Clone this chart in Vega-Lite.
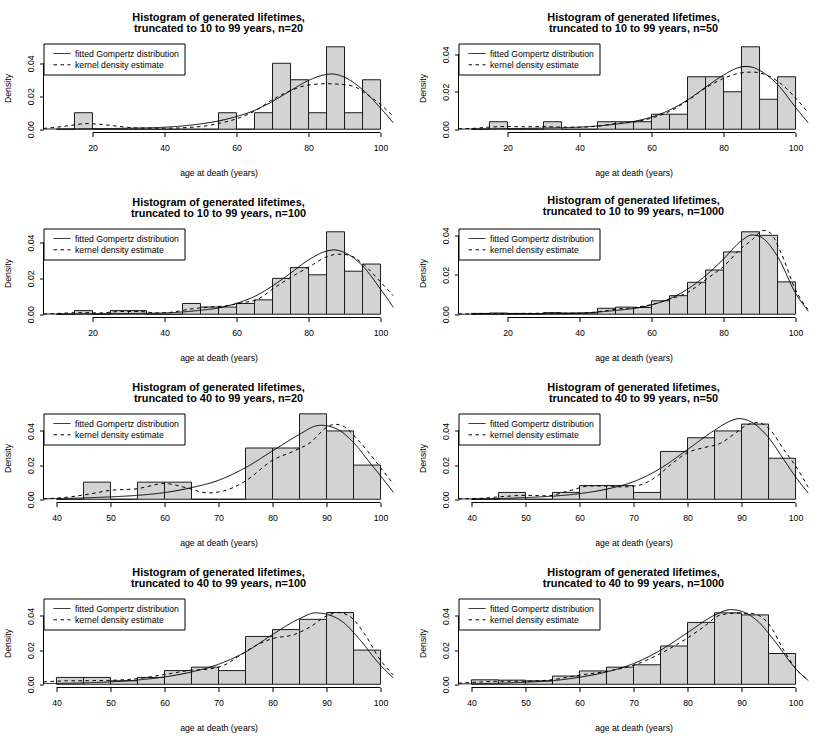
{
"$schema":"https://vega.github.io/schema/vega-lite/v6.json",
"background":"white",
"padding":{"left":3.5,"top":11.5,"right":5,"bottom":5},
"datasets":{
"bars":[
{"p":1,"lo":10,"hi":15,"d":0},{"p":1,"lo":15,"hi":20,"d":0.01},{"p":1,"lo":20,"hi":25,"d":0},{"p":1,"lo":25,"hi":30,"d":0},{"p":1,"lo":30,"hi":35,"d":0},{"p":1,"lo":35,"hi":40,"d":0},{"p":1,"lo":40,"hi":45,"d":0},{"p":1,"lo":45,"hi":50,"d":0},{"p":1,"lo":50,"hi":55,"d":0},{"p":1,"lo":55,"hi":60,"d":0.01},{"p":1,"lo":60,"hi":65,"d":0},{"p":1,"lo":65,"hi":70,"d":0.01},{"p":1,"lo":70,"hi":75,"d":0.04},{"p":1,"lo":75,"hi":80,"d":0.03},{"p":1,"lo":80,"hi":85,"d":0.01},{"p":1,"lo":85,"hi":90,"d":0.05},{"p":1,"lo":90,"hi":95,"d":0.01},{"p":1,"lo":95,"hi":100,"d":0.03},
{"p":2,"lo":10,"hi":15,"d":0},{"p":2,"lo":15,"hi":20,"d":0.004},{"p":2,"lo":20,"hi":25,"d":0},{"p":2,"lo":25,"hi":30,"d":0},{"p":2,"lo":30,"hi":35,"d":0.004},{"p":2,"lo":35,"hi":40,"d":0},{"p":2,"lo":40,"hi":45,"d":0},{"p":2,"lo":45,"hi":50,"d":0.004},{"p":2,"lo":50,"hi":55,"d":0.004},{"p":2,"lo":55,"hi":60,"d":0.004},{"p":2,"lo":60,"hi":65,"d":0.008},{"p":2,"lo":65,"hi":70,"d":0.008},{"p":2,"lo":70,"hi":75,"d":0.028},{"p":2,"lo":75,"hi":80,"d":0.028},{"p":2,"lo":80,"hi":85,"d":0.02},{"p":2,"lo":85,"hi":90,"d":0.044},{"p":2,"lo":90,"hi":95,"d":0.016},{"p":2,"lo":95,"hi":100,"d":0.028},
{"p":3,"lo":10,"hi":15,"d":0},{"p":3,"lo":15,"hi":20,"d":0.002},{"p":3,"lo":20,"hi":25,"d":0},{"p":3,"lo":25,"hi":30,"d":0.002},{"p":3,"lo":30,"hi":35,"d":0.002},{"p":3,"lo":35,"hi":40,"d":0},{"p":3,"lo":40,"hi":45,"d":0},{"p":3,"lo":45,"hi":50,"d":0.006},{"p":3,"lo":50,"hi":55,"d":0.004},{"p":3,"lo":55,"hi":60,"d":0.004},{"p":3,"lo":60,"hi":65,"d":0.006},{"p":3,"lo":65,"hi":70,"d":0.008},{"p":3,"lo":70,"hi":75,"d":0.02},{"p":3,"lo":75,"hi":80,"d":0.026},{"p":3,"lo":80,"hi":85,"d":0.022},{"p":3,"lo":85,"hi":90,"d":0.046},{"p":3,"lo":90,"hi":95,"d":0.024},{"p":3,"lo":95,"hi":100,"d":0.028},
{"p":4,"lo":10,"hi":15,"d":0.0004},{"p":4,"lo":15,"hi":20,"d":0.0006},{"p":4,"lo":20,"hi":25,"d":0.0004},{"p":4,"lo":25,"hi":30,"d":0.0002},{"p":4,"lo":30,"hi":35,"d":0.0008},{"p":4,"lo":35,"hi":40,"d":0.0006},{"p":4,"lo":40,"hi":45,"d":0.0006},{"p":4,"lo":45,"hi":50,"d":0.003},{"p":4,"lo":50,"hi":55,"d":0.0036},{"p":4,"lo":55,"hi":60,"d":0.0034},{"p":4,"lo":60,"hi":65,"d":0.0068},{"p":4,"lo":65,"hi":70,"d":0.0094},{"p":4,"lo":70,"hi":75,"d":0.0162},{"p":4,"lo":75,"hi":80,"d":0.0224},{"p":4,"lo":80,"hi":85,"d":0.0316},{"p":4,"lo":85,"hi":90,"d":0.0418},{"p":4,"lo":90,"hi":95,"d":0.04},{"p":4,"lo":95,"hi":100,"d":0.0164},
{"p":5,"lo":40,"hi":45,"d":0},{"p":5,"lo":45,"hi":50,"d":0.01},{"p":5,"lo":50,"hi":55,"d":0},{"p":5,"lo":55,"hi":60,"d":0.01},{"p":5,"lo":60,"hi":65,"d":0.01},{"p":5,"lo":65,"hi":70,"d":0},{"p":5,"lo":70,"hi":75,"d":0},{"p":5,"lo":75,"hi":80,"d":0.03},{"p":5,"lo":80,"hi":85,"d":0.03},{"p":5,"lo":85,"hi":90,"d":0.05},{"p":5,"lo":90,"hi":95,"d":0.04},{"p":5,"lo":95,"hi":100,"d":0.02},
{"p":6,"lo":40,"hi":45,"d":0},{"p":6,"lo":45,"hi":50,"d":0.004},{"p":6,"lo":50,"hi":55,"d":0},{"p":6,"lo":55,"hi":60,"d":0.004},{"p":6,"lo":60,"hi":65,"d":0.008},{"p":6,"lo":65,"hi":70,"d":0.008},{"p":6,"lo":70,"hi":75,"d":0.004},{"p":6,"lo":75,"hi":80,"d":0.028},{"p":6,"lo":80,"hi":85,"d":0.036},{"p":6,"lo":85,"hi":90,"d":0.04},{"p":6,"lo":90,"hi":95,"d":0.044},{"p":6,"lo":95,"hi":100,"d":0.024},
{"p":7,"lo":40,"hi":45,"d":0.004},{"p":7,"lo":45,"hi":50,"d":0.004},{"p":7,"lo":50,"hi":55,"d":0.002},{"p":7,"lo":55,"hi":60,"d":0.004},{"p":7,"lo":60,"hi":65,"d":0.008},{"p":7,"lo":65,"hi":70,"d":0.01},{"p":7,"lo":70,"hi":75,"d":0.008},{"p":7,"lo":75,"hi":80,"d":0.028},{"p":7,"lo":80,"hi":85,"d":0.032},{"p":7,"lo":85,"hi":90,"d":0.038},{"p":7,"lo":90,"hi":95,"d":0.042},{"p":7,"lo":95,"hi":100,"d":0.02},
{"p":8,"lo":40,"hi":45,"d":0.0026},{"p":8,"lo":45,"hi":50,"d":0.0024},{"p":8,"lo":50,"hi":55,"d":0.002},{"p":8,"lo":55,"hi":60,"d":0.0048},{"p":8,"lo":60,"hi":65,"d":0.0078},{"p":8,"lo":65,"hi":70,"d":0.01},{"p":8,"lo":70,"hi":75,"d":0.0114},{"p":8,"lo":75,"hi":80,"d":0.0224},{"p":8,"lo":80,"hi":85,"d":0.0362},{"p":8,"lo":85,"hi":90,"d":0.0418},{"p":8,"lo":90,"hi":95,"d":0.0406},{"p":8,"lo":95,"hi":100,"d":0.018}
],
"curves":[
{"p":1,"s":"g","x":6.4,"y":0.0001},{"p":1,"s":"g","x":20,"y":0.0003},{"p":1,"s":"g","x":30,"y":0.0006},{"p":1,"s":"g","x":40,"y":0.0012},{"p":1,"s":"g","x":50,"y":0.0032},{"p":1,"s":"g","x":55,"y":0.005},{"p":1,"s":"g","x":60,"y":0.0077},{"p":1,"s":"g","x":65,"y":0.0114},{"p":1,"s":"g","x":70,"y":0.0169},{"p":1,"s":"g","x":75,"y":0.0234},{"p":1,"s":"g","x":80,"y":0.0296},{"p":1,"s":"g","x":85,"y":0.0332},{"p":1,"s":"g","x":86.5,"y":0.0335},{"p":1,"s":"g","x":90,"y":0.0315},{"p":1,"s":"g","x":95,"y":0.024},{"p":1,"s":"g","x":100,"y":0.0128},{"p":1,"s":"g","x":103.6,"y":0.0037},
{"p":1,"s":"k","x":6.4,"y":0.0005},{"p":1,"s":"k","x":10,"y":0.0012},{"p":1,"s":"k","x":15,"y":0.0026},{"p":1,"s":"k","x":18,"y":0.0034},{"p":1,"s":"k","x":22,"y":0.003},{"p":1,"s":"k","x":27,"y":0.0018},{"p":1,"s":"k","x":32,"y":0.0008},{"p":1,"s":"k","x":40,"y":0.0006},{"p":1,"s":"k","x":50,"y":0.0016},{"p":1,"s":"k","x":55,"y":0.0035},{"p":1,"s":"k","x":60,"y":0.0063},{"p":1,"s":"k","x":65,"y":0.011},{"p":1,"s":"k","x":70,"y":0.0179},{"p":1,"s":"k","x":75,"y":0.0234},{"p":1,"s":"k","x":80,"y":0.0268},{"p":1,"s":"k","x":85,"y":0.0276},{"p":1,"s":"k","x":90,"y":0.027},{"p":1,"s":"k","x":93,"y":0.0256},{"p":1,"s":"k","x":96,"y":0.0215},{"p":1,"s":"k","x":100,"y":0.015},{"p":1,"s":"k","x":103.6,"y":0.0077},
{"p":2,"s":"g","x":6.4,"y":0.0001},{"p":2,"s":"g","x":20,"y":0.0003},{"p":2,"s":"g","x":30,"y":0.0006},{"p":2,"s":"g","x":40,"y":0.0011},{"p":2,"s":"g","x":50,"y":0.0027},{"p":2,"s":"g","x":55,"y":0.0041},{"p":2,"s":"g","x":60,"y":0.0065},{"p":2,"s":"g","x":65,"y":0.0102},{"p":2,"s":"g","x":70,"y":0.0156},{"p":2,"s":"g","x":75,"y":0.0224},{"p":2,"s":"g","x":80,"y":0.0289},{"p":2,"s":"g","x":84,"y":0.0328},{"p":2,"s":"g","x":86,"y":0.0335},{"p":2,"s":"g","x":88,"y":0.0331},{"p":2,"s":"g","x":90,"y":0.0314},{"p":2,"s":"g","x":95,"y":0.0239},{"p":2,"s":"g","x":100,"y":0.0117},{"p":2,"s":"g","x":103.6,"y":0.0032},
{"p":2,"s":"k","x":6.4,"y":0.0002},{"p":2,"s":"k","x":10,"y":0.0004},{"p":2,"s":"k","x":15,"y":0.0011},{"p":2,"s":"k","x":20,"y":0.0014},{"p":2,"s":"k","x":25,"y":0.0013},{"p":2,"s":"k","x":30,"y":0.0014},{"p":2,"s":"k","x":35,"y":0.0011},{"p":2,"s":"k","x":40,"y":0.0011},{"p":2,"s":"k","x":45,"y":0.0016},{"p":2,"s":"k","x":50,"y":0.003},{"p":2,"s":"k","x":55,"y":0.0038},{"p":2,"s":"k","x":60,"y":0.0059},{"p":2,"s":"k","x":65,"y":0.0095},{"p":2,"s":"k","x":70,"y":0.0152},{"p":2,"s":"k","x":75,"y":0.022},{"p":2,"s":"k","x":80,"y":0.0271},{"p":2,"s":"k","x":85,"y":0.0301},{"p":2,"s":"k","x":88,"y":0.0305},{"p":2,"s":"k","x":92,"y":0.0289},{"p":2,"s":"k","x":96,"y":0.0242},{"p":2,"s":"k","x":100,"y":0.0167},{"p":2,"s":"k","x":103.6,"y":0.0086},
{"p":3,"s":"g","x":6.4,"y":0.0001},{"p":3,"s":"g","x":20,"y":0.0002},{"p":3,"s":"g","x":30,"y":0.0004},{"p":3,"s":"g","x":40,"y":0.0007},{"p":3,"s":"g","x":50,"y":0.0022},{"p":3,"s":"g","x":55,"y":0.0035},{"p":3,"s":"g","x":60,"y":0.0061},{"p":3,"s":"g","x":65,"y":0.0099},{"p":3,"s":"g","x":70,"y":0.0158},{"p":3,"s":"g","x":75,"y":0.0229},{"p":3,"s":"g","x":80,"y":0.0303},{"p":3,"s":"g","x":85,"y":0.0352},{"p":3,"s":"g","x":87,"y":0.0359},{"p":3,"s":"g","x":90,"y":0.0344},{"p":3,"s":"g","x":95,"y":0.027},{"p":3,"s":"g","x":100,"y":0.014},{"p":3,"s":"g","x":103.6,"y":0.0037},
{"p":3,"s":"k","x":6.4,"y":0.0001},{"p":3,"s":"k","x":10,"y":0.0004},{"p":3,"s":"k","x":17,"y":0.0009},{"p":3,"s":"k","x":22,"y":0.0007},{"p":3,"s":"k","x":28,"y":0.0015},{"p":3,"s":"k","x":33,"y":0.0015},{"p":3,"s":"k","x":38,"y":0.0007},{"p":3,"s":"k","x":42,"y":0.0011},{"p":3,"s":"k","x":47,"y":0.0028},{"p":3,"s":"k","x":52,"y":0.0039},{"p":3,"s":"k","x":57,"y":0.0047},{"p":3,"s":"k","x":62,"y":0.0065},{"p":3,"s":"k","x":66,"y":0.0084},{"p":3,"s":"k","x":70,"y":0.014},{"p":3,"s":"k","x":75,"y":0.0205},{"p":3,"s":"k","x":80,"y":0.0262},{"p":3,"s":"k","x":85,"y":0.032},{"p":3,"s":"k","x":88,"y":0.0335},{"p":3,"s":"k","x":91,"y":0.0331},{"p":3,"s":"k","x":95,"y":0.0283},{"p":3,"s":"k","x":100,"y":0.018},{"p":3,"s":"k","x":103.6,"y":0.0102},
{"p":4,"s":"g","x":6.4,"y":0},{"p":4,"s":"g","x":20,"y":0.0001},{"p":4,"s":"g","x":30,"y":0.0002},{"p":4,"s":"g","x":40,"y":0.0005},{"p":4,"s":"g","x":50,"y":0.0019},{"p":4,"s":"g","x":55,"y":0.0029},{"p":4,"s":"g","x":60,"y":0.0047},{"p":4,"s":"g","x":65,"y":0.0078},{"p":4,"s":"g","x":70,"y":0.0127},{"p":4,"s":"g","x":75,"y":0.0195},{"p":4,"s":"g","x":80,"y":0.028},{"p":4,"s":"g","x":85,"y":0.0373},{"p":4,"s":"g","x":88,"y":0.0402},{"p":4,"s":"g","x":90,"y":0.0395},{"p":4,"s":"g","x":95,"y":0.0293},{"p":4,"s":"g","x":100,"y":0.0107},{"p":4,"s":"g","x":103.6,"y":0.0014},
{"p":4,"s":"k","x":6.4,"y":0.0001},{"p":4,"s":"k","x":10,"y":0.0002},{"p":4,"s":"k","x":20,"y":0.0003},{"p":4,"s":"k","x":30,"y":0.0005},{"p":4,"s":"k","x":40,"y":0.0005},{"p":4,"s":"k","x":45,"y":0.0012},{"p":4,"s":"k","x":50,"y":0.0025},{"p":4,"s":"k","x":55,"y":0.0034},{"p":4,"s":"k","x":60,"y":0.0049},{"p":4,"s":"k","x":65,"y":0.0076},{"p":4,"s":"k","x":70,"y":0.011},{"p":4,"s":"k","x":75,"y":0.0175},{"p":4,"s":"k","x":80,"y":0.0242},{"p":4,"s":"k","x":85,"y":0.0336},{"p":4,"s":"k","x":88,"y":0.0378},{"p":4,"s":"k","x":91,"y":0.0425},{"p":4,"s":"k","x":93,"y":0.0412},{"p":4,"s":"k","x":96,"y":0.031},{"p":4,"s":"k","x":100,"y":0.0124},{"p":4,"s":"k","x":103.6,"y":0.002},
{"p":5,"s":"g","x":37.6,"y":0.0002},{"p":5,"s":"g","x":45,"y":0.0008},{"p":5,"s":"g","x":50,"y":0.0014},{"p":5,"s":"g","x":55,"y":0.0023},{"p":5,"s":"g","x":60,"y":0.0039},{"p":5,"s":"g","x":65,"y":0.0068},{"p":5,"s":"g","x":70,"y":0.0111},{"p":5,"s":"g","x":75,"y":0.0185},{"p":5,"s":"g","x":80,"y":0.0283},{"p":5,"s":"g","x":85,"y":0.038},{"p":5,"s":"g","x":88,"y":0.0429},{"p":5,"s":"g","x":89,"y":0.0433},{"p":5,"s":"g","x":92,"y":0.041},{"p":5,"s":"g","x":95,"y":0.0332},{"p":5,"s":"g","x":98,"y":0.0215},{"p":5,"s":"g","x":100,"y":0.0137},{"p":5,"s":"g","x":102.4,"y":0.0039},
{"p":5,"s":"k","x":37.6,"y":0.0003},{"p":5,"s":"k","x":42,"y":0.0012},{"p":5,"s":"k","x":46,"y":0.003},{"p":5,"s":"k","x":50,"y":0.0052},{"p":5,"s":"k","x":55,"y":0.0062},{"p":5,"s":"k","x":60,"y":0.0092},{"p":5,"s":"k","x":64,"y":0.0068},{"p":5,"s":"k","x":68,"y":0.0037},{"p":5,"s":"k","x":71,"y":0.0049},{"p":5,"s":"k","x":75,"y":0.0107},{"p":5,"s":"k","x":80,"y":0.0228},{"p":5,"s":"k","x":84,"y":0.0283},{"p":5,"s":"k","x":87,"y":0.0332},{"p":5,"s":"k","x":90,"y":0.042},{"p":5,"s":"k","x":91.5,"y":0.0439},{"p":5,"s":"k","x":93,"y":0.0429},{"p":5,"s":"k","x":96,"y":0.0341},{"p":5,"s":"k","x":100,"y":0.0185},{"p":5,"s":"k","x":102.4,"y":0.0088},
{"p":6,"s":"g","x":37.6,"y":0.0002},{"p":6,"s":"g","x":45,"y":0.0004},{"p":6,"s":"g","x":50,"y":0.001},{"p":6,"s":"g","x":55,"y":0.0018},{"p":6,"s":"g","x":60,"y":0.0033},{"p":6,"s":"g","x":65,"y":0.0059},{"p":6,"s":"g","x":70,"y":0.0103},{"p":6,"s":"g","x":75,"y":0.0181},{"p":6,"s":"g","x":80,"y":0.0291},{"p":6,"s":"g","x":85,"y":0.0404},{"p":6,"s":"g","x":88,"y":0.0459},{"p":6,"s":"g","x":89.5,"y":0.0472},{"p":6,"s":"g","x":92,"y":0.0449},{"p":6,"s":"g","x":95,"y":0.0361},{"p":6,"s":"g","x":98,"y":0.0224},{"p":6,"s":"g","x":100,"y":0.0131},{"p":6,"s":"g","x":102.4,"y":0.0035},
{"p":6,"s":"k","x":37.6,"y":0.0002},{"p":6,"s":"k","x":42,"y":0.0006},{"p":6,"s":"k","x":46,"y":0.0016},{"p":6,"s":"k","x":50,"y":0.0023},{"p":6,"s":"k","x":54,"y":0.002},{"p":6,"s":"k","x":58,"y":0.0049},{"p":6,"s":"k","x":62,"y":0.0078},{"p":6,"s":"k","x":65,"y":0.0078},{"p":6,"s":"k","x":68,"y":0.0072},{"p":6,"s":"k","x":71,"y":0.0082},{"p":6,"s":"k","x":74,"y":0.0127},{"p":6,"s":"k","x":77,"y":0.0205},{"p":6,"s":"k","x":80,"y":0.0273},{"p":6,"s":"k","x":83,"y":0.0302},{"p":6,"s":"k","x":86,"y":0.0326},{"p":6,"s":"k","x":89,"y":0.039},{"p":6,"s":"k","x":91,"y":0.0435},{"p":6,"s":"k","x":93,"y":0.0449},{"p":6,"s":"k","x":95,"y":0.0416},{"p":6,"s":"k","x":98,"y":0.0283},{"p":6,"s":"k","x":100,"y":0.0195},{"p":6,"s":"k","x":102.4,"y":0.0068},
{"p":7,"s":"g","x":37.6,"y":0.0004},{"p":7,"s":"g","x":45,"y":0.0008},{"p":7,"s":"g","x":50,"y":0.0014},{"p":7,"s":"g","x":55,"y":0.0025},{"p":7,"s":"g","x":60,"y":0.0043},{"p":7,"s":"g","x":65,"y":0.0072},{"p":7,"s":"g","x":70,"y":0.0117},{"p":7,"s":"g","x":75,"y":0.0189},{"p":7,"s":"g","x":80,"y":0.0291},{"p":7,"s":"g","x":85,"y":0.0384},{"p":7,"s":"g","x":88,"y":0.0418},{"p":7,"s":"g","x":90,"y":0.041},{"p":7,"s":"g","x":93,"y":0.0365},{"p":7,"s":"g","x":96,"y":0.0267},{"p":7,"s":"g","x":100,"y":0.0111},{"p":7,"s":"g","x":102.4,"y":0.0037},
{"p":7,"s":"k","x":37.6,"y":0.0014},{"p":7,"s":"k","x":42,"y":0.002},{"p":7,"s":"k","x":46,"y":0.0021},{"p":7,"s":"k","x":50,"y":0.0023},{"p":7,"s":"k","x":55,"y":0.0033},{"p":7,"s":"k","x":60,"y":0.0057},{"p":7,"s":"k","x":65,"y":0.0082},{"p":7,"s":"k","x":68,"y":0.0088},{"p":7,"s":"k","x":71,"y":0.0111},{"p":7,"s":"k","x":74,"y":0.017},{"p":7,"s":"k","x":77,"y":0.0228},{"p":7,"s":"k","x":80,"y":0.0267},{"p":7,"s":"k","x":84,"y":0.0291},{"p":7,"s":"k","x":87,"y":0.0336},{"p":7,"s":"k","x":90,"y":0.04},{"p":7,"s":"k","x":92,"y":0.042},{"p":7,"s":"k","x":94,"y":0.0404},{"p":7,"s":"k","x":97,"y":0.0297},{"p":7,"s":"k","x":100,"y":0.014},{"p":7,"s":"k","x":102.4,"y":0.0053},
{"p":8,"s":"g","x":37.6,"y":0.0002},{"p":8,"s":"g","x":45,"y":0.0006},{"p":8,"s":"g","x":50,"y":0.0012},{"p":8,"s":"g","x":55,"y":0.0021},{"p":8,"s":"g","x":60,"y":0.0041},{"p":8,"s":"g","x":65,"y":0.0072},{"p":8,"s":"g","x":70,"y":0.0121},{"p":8,"s":"g","x":75,"y":0.0199},{"p":8,"s":"g","x":80,"y":0.0302},{"p":8,"s":"g","x":85,"y":0.0404},{"p":8,"s":"g","x":88,"y":0.0437},{"p":8,"s":"g","x":90,"y":0.0427},{"p":8,"s":"g","x":93,"y":0.0369},{"p":8,"s":"g","x":96,"y":0.0258},{"p":8,"s":"g","x":100,"y":0.0092},{"p":8,"s":"g","x":102.4,"y":0.0021},
{"p":8,"s":"k","x":37.6,"y":0.0006},{"p":8,"s":"k","x":42,"y":0.0014},{"p":8,"s":"k","x":46,"y":0.0018},{"p":8,"s":"k","x":50,"y":0.0018},{"p":8,"s":"k","x":55,"y":0.0027},{"p":8,"s":"k","x":60,"y":0.0053},{"p":8,"s":"k","x":65,"y":0.0076},{"p":8,"s":"k","x":70,"y":0.0111},{"p":8,"s":"k","x":75,"y":0.018},{"p":8,"s":"k","x":80,"y":0.0271},{"p":8,"s":"k","x":83,"y":0.0336},{"p":8,"s":"k","x":86,"y":0.0404},{"p":8,"s":"k","x":89,"y":0.0416},{"p":8,"s":"k","x":92,"y":0.0414},{"p":8,"s":"k","x":95,"y":0.0355},{"p":8,"s":"k","x":98,"y":0.0189},{"p":8,"s":"k","x":100,"y":0.0092},{"p":8,"s":"k","x":102.4,"y":0.0023}
]
},
"columns":2,
"spacing":{"row":96,"column":65},
"bounds":"flush",
"resolve":{"scale":{"strokeDash":"independent","x":"independent","y":"independent"},"legend":{"strokeDash":"independent"}},
"concat":[
{"width":350,"height":89,"title":{"text":["Histogram of generated lifetimes,","truncated to 10 to 99 years, n=20"]},
"layer":[
{"data":{"name":"bars"},"transform":[{"filter":"datum.p==1"}],"mark":{"type":"rect","fill":"#d3d3d3","stroke":"#1a1a1a","strokeWidth":1},
"encoding":{"x":{"field":"lo","type":"quantitative","scale":{"domain":[6.4,103.6],"nice":false,"zero":false},"axis":{"values":[20,40,60,80,100],"title":"age at death (years)"}},"x2":{"field":"hi"},
"y":{"field":"d","type":"quantitative","scale":{"domain":[-0.002,0.052],"nice":false,"zero":false},"axis":{"values":[0,0.01,0.02,0.03,0.04],"title":"Density","labelExpr":"round(datum.value*100)%2==0 ? format(datum.value,'.2f') : ''"}},"y2":{"datum":0}}},
{"data":{"name":"curves"},"transform":[{"filter":"datum.p==1"}],"mark":{"type":"line","color":"#000","strokeWidth":1,"clip":true,"interpolate":"monotone"},
"encoding":{"x":{"field":"x","type":"quantitative"},"y":{"field":"y","type":"quantitative"},"strokeDash":{"field":"s","type":"nominal","scale":{"domain":["g","k"],"range":[[1,0],[3.5,3.5]]},"legend":{"title":null,"labelFontSize":8.7,"labelExpr":"datum.label=='g' ? 'fitted Gompertz distribution' : 'kernel density estimate'"}}}},
{"data":{"values":[{}]},"mark":{"type":"rule","color":"#000","strokeWidth":1},"encoding":{"x":{"datum":20},"x2":{"datum":100},"y":{"datum":-0.002}}},
{"data":{"values":[{}]},"mark":{"type":"rule","color":"#000","strokeWidth":1},"encoding":{"x":{"datum":6.4},"y":{"datum":0},"y2":{"datum":0.04}}}
]},
{"width":350,"height":89,"title":{"text":["Histogram of generated lifetimes,","truncated to 10 to 99 years, n=50"]},
"layer":[
{"data":{"name":"bars"},"transform":[{"filter":"datum.p==2"}],"mark":{"type":"rect","fill":"#d3d3d3","stroke":"#1a1a1a","strokeWidth":1},
"encoding":{"x":{"field":"lo","type":"quantitative","scale":{"domain":[6.4,103.6],"nice":false,"zero":false},"axis":{"values":[20,40,60,80,100],"title":"age at death (years)"}},"x2":{"field":"hi"},
"y":{"field":"d","type":"quantitative","scale":{"domain":[-0.00176,0.04576],"nice":false,"zero":false},"axis":{"values":[0,0.01,0.02,0.03,0.04],"title":"Density","labelExpr":"round(datum.value*100)%2==0 ? format(datum.value,'.2f') : ''"}},"y2":{"datum":0}}},
{"data":{"name":"curves"},"transform":[{"filter":"datum.p==2"}],"mark":{"type":"line","color":"#000","strokeWidth":1,"clip":true,"interpolate":"monotone"},
"encoding":{"x":{"field":"x","type":"quantitative"},"y":{"field":"y","type":"quantitative"},"strokeDash":{"field":"s","type":"nominal","scale":{"domain":["g","k"],"range":[[1,0],[3.5,3.5]]},"legend":{"title":null,"labelFontSize":8.7,"labelExpr":"datum.label=='g' ? 'fitted Gompertz distribution' : 'kernel density estimate'"}}}},
{"data":{"values":[{}]},"mark":{"type":"rule","color":"#000","strokeWidth":1},"encoding":{"x":{"datum":20},"x2":{"datum":100},"y":{"datum":-0.00176}}},
{"data":{"values":[{}]},"mark":{"type":"rule","color":"#000","strokeWidth":1},"encoding":{"x":{"datum":6.4},"y":{"datum":0},"y2":{"datum":0.04}}}
]},
{"width":350,"height":89,"title":{"text":["Histogram of generated lifetimes,","truncated to 10 to 99 years, n=100"]},
"layer":[
{"data":{"name":"bars"},"transform":[{"filter":"datum.p==3"}],"mark":{"type":"rect","fill":"#d3d3d3","stroke":"#1a1a1a","strokeWidth":1},
"encoding":{"x":{"field":"lo","type":"quantitative","scale":{"domain":[6.4,103.6],"nice":false,"zero":false},"axis":{"values":[20,40,60,80,100],"title":"age at death (years)"}},"x2":{"field":"hi"},
"y":{"field":"d","type":"quantitative","scale":{"domain":[-0.00184,0.04784],"nice":false,"zero":false},"axis":{"values":[0,0.01,0.02,0.03,0.04],"title":"Density","labelExpr":"round(datum.value*100)%2==0 ? format(datum.value,'.2f') : ''"}},"y2":{"datum":0}}},
{"data":{"name":"curves"},"transform":[{"filter":"datum.p==3"}],"mark":{"type":"line","color":"#000","strokeWidth":1,"clip":true,"interpolate":"monotone"},
"encoding":{"x":{"field":"x","type":"quantitative"},"y":{"field":"y","type":"quantitative"},"strokeDash":{"field":"s","type":"nominal","scale":{"domain":["g","k"],"range":[[1,0],[3.5,3.5]]},"legend":{"title":null,"labelFontSize":8.7,"labelExpr":"datum.label=='g' ? 'fitted Gompertz distribution' : 'kernel density estimate'"}}}},
{"data":{"values":[{}]},"mark":{"type":"rule","color":"#000","strokeWidth":1},"encoding":{"x":{"datum":20},"x2":{"datum":100},"y":{"datum":-0.00184}}},
{"data":{"values":[{}]},"mark":{"type":"rule","color":"#000","strokeWidth":1},"encoding":{"x":{"datum":6.4},"y":{"datum":0},"y2":{"datum":0.04}}}
]},
{"width":350,"height":89,"title":{"text":["Histogram of generated lifetimes,","truncated to 10 to 99 years, n=1000"]},
"layer":[
{"data":{"name":"bars"},"transform":[{"filter":"datum.p==4"}],"mark":{"type":"rect","fill":"#d3d3d3","stroke":"#1a1a1a","strokeWidth":1},
"encoding":{"x":{"field":"lo","type":"quantitative","scale":{"domain":[6.4,103.6],"nice":false,"zero":false},"axis":{"values":[20,40,60,80,100],"title":"age at death (years)"}},"x2":{"field":"hi"},
"y":{"field":"d","type":"quantitative","scale":{"domain":[-0.00167,0.04347],"nice":false,"zero":false},"axis":{"values":[0,0.01,0.02,0.03,0.04],"title":"Density","labelExpr":"round(datum.value*100)%2==0 ? format(datum.value,'.2f') : ''"}},"y2":{"datum":0}}},
{"data":{"name":"curves"},"transform":[{"filter":"datum.p==4"}],"mark":{"type":"line","color":"#000","strokeWidth":1,"clip":true,"interpolate":"monotone"},
"encoding":{"x":{"field":"x","type":"quantitative"},"y":{"field":"y","type":"quantitative"},"strokeDash":{"field":"s","type":"nominal","scale":{"domain":["g","k"],"range":[[1,0],[3.5,3.5]]},"legend":{"title":null,"labelFontSize":8.7,"labelExpr":"datum.label=='g' ? 'fitted Gompertz distribution' : 'kernel density estimate'"}}}},
{"data":{"values":[{}]},"mark":{"type":"rule","color":"#000","strokeWidth":1},"encoding":{"x":{"datum":20},"x2":{"datum":100},"y":{"datum":-0.00167}}},
{"data":{"values":[{}]},"mark":{"type":"rule","color":"#000","strokeWidth":1},"encoding":{"x":{"datum":6.4},"y":{"datum":0},"y2":{"datum":0.04}}}
]},
{"width":350,"height":89,"title":{"text":["Histogram of generated lifetimes,","truncated to 40 to 99 years, n=20"]},
"layer":[
{"data":{"name":"bars"},"transform":[{"filter":"datum.p==5"}],"mark":{"type":"rect","fill":"#d3d3d3","stroke":"#1a1a1a","strokeWidth":1},
"encoding":{"x":{"field":"lo","type":"quantitative","scale":{"domain":[37.6,102.4],"nice":false,"zero":false},"axis":{"values":[40,50,60,70,80,90,100],"title":"age at death (years)"}},"x2":{"field":"hi"},
"y":{"field":"d","type":"quantitative","scale":{"domain":[-0.0019,0.0502],"nice":false,"zero":false},"axis":{"values":[0,0.01,0.02,0.03,0.04],"title":"Density","labelExpr":"round(datum.value*100)%2==0 ? format(datum.value,'.2f') : ''"}},"y2":{"datum":0}}},
{"data":{"name":"curves"},"transform":[{"filter":"datum.p==5"}],"mark":{"type":"line","color":"#000","strokeWidth":1,"clip":true,"interpolate":"monotone"},
"encoding":{"x":{"field":"x","type":"quantitative"},"y":{"field":"y","type":"quantitative"},"strokeDash":{"field":"s","type":"nominal","scale":{"domain":["g","k"],"range":[[1,0],[3.5,3.5]]},"legend":{"title":null,"labelFontSize":8.7,"labelExpr":"datum.label=='g' ? 'fitted Gompertz distribution' : 'kernel density estimate'"}}}},
{"data":{"values":[{}]},"mark":{"type":"rule","color":"#000","strokeWidth":1},"encoding":{"x":{"datum":40},"x2":{"datum":100},"y":{"datum":-0.0019}}},
{"data":{"values":[{}]},"mark":{"type":"rule","color":"#000","strokeWidth":1},"encoding":{"x":{"datum":37.6},"y":{"datum":0},"y2":{"datum":0.04}}}
]},
{"width":350,"height":89,"title":{"text":["Histogram of generated lifetimes,","truncated to 40 to 99 years, n=50"]},
"layer":[
{"data":{"name":"bars"},"transform":[{"filter":"datum.p==6"}],"mark":{"type":"rect","fill":"#d3d3d3","stroke":"#1a1a1a","strokeWidth":1},
"encoding":{"x":{"field":"lo","type":"quantitative","scale":{"domain":[37.6,102.4],"nice":false,"zero":false},"axis":{"values":[40,50,60,70,80,90,100],"title":"age at death (years)"}},"x2":{"field":"hi"},
"y":{"field":"d","type":"quantitative","scale":{"domain":[-0.0019,0.0502],"nice":false,"zero":false},"axis":{"values":[0,0.01,0.02,0.03,0.04],"title":"Density","labelExpr":"round(datum.value*100)%2==0 ? format(datum.value,'.2f') : ''"}},"y2":{"datum":0}}},
{"data":{"name":"curves"},"transform":[{"filter":"datum.p==6"}],"mark":{"type":"line","color":"#000","strokeWidth":1,"clip":true,"interpolate":"monotone"},
"encoding":{"x":{"field":"x","type":"quantitative"},"y":{"field":"y","type":"quantitative"},"strokeDash":{"field":"s","type":"nominal","scale":{"domain":["g","k"],"range":[[1,0],[3.5,3.5]]},"legend":{"title":null,"labelFontSize":8.7,"labelExpr":"datum.label=='g' ? 'fitted Gompertz distribution' : 'kernel density estimate'"}}}},
{"data":{"values":[{}]},"mark":{"type":"rule","color":"#000","strokeWidth":1},"encoding":{"x":{"datum":40},"x2":{"datum":100},"y":{"datum":-0.0019}}},
{"data":{"values":[{}]},"mark":{"type":"rule","color":"#000","strokeWidth":1},"encoding":{"x":{"datum":37.6},"y":{"datum":0},"y2":{"datum":0.04}}}
]},
{"width":350,"height":89,"title":{"text":["Histogram of generated lifetimes,","truncated to 40 to 99 years, n=100"]},
"layer":[
{"data":{"name":"bars"},"transform":[{"filter":"datum.p==7"}],"mark":{"type":"rect","fill":"#d3d3d3","stroke":"#1a1a1a","strokeWidth":1},
"encoding":{"x":{"field":"lo","type":"quantitative","scale":{"domain":[37.6,102.4],"nice":false,"zero":false},"axis":{"values":[40,50,60,70,80,90,100],"title":"age at death (years)"}},"x2":{"field":"hi"},
"y":{"field":"d","type":"quantitative","scale":{"domain":[-0.0019,0.0502],"nice":false,"zero":false},"axis":{"values":[0,0.01,0.02,0.03,0.04],"title":"Density","labelExpr":"round(datum.value*100)%2==0 ? format(datum.value,'.2f') : ''"}},"y2":{"datum":0}}},
{"data":{"name":"curves"},"transform":[{"filter":"datum.p==7"}],"mark":{"type":"line","color":"#000","strokeWidth":1,"clip":true,"interpolate":"monotone"},
"encoding":{"x":{"field":"x","type":"quantitative"},"y":{"field":"y","type":"quantitative"},"strokeDash":{"field":"s","type":"nominal","scale":{"domain":["g","k"],"range":[[1,0],[3.5,3.5]]},"legend":{"title":null,"labelFontSize":8.7,"labelExpr":"datum.label=='g' ? 'fitted Gompertz distribution' : 'kernel density estimate'"}}}},
{"data":{"values":[{}]},"mark":{"type":"rule","color":"#000","strokeWidth":1},"encoding":{"x":{"datum":40},"x2":{"datum":100},"y":{"datum":-0.0019}}},
{"data":{"values":[{}]},"mark":{"type":"rule","color":"#000","strokeWidth":1},"encoding":{"x":{"datum":37.6},"y":{"datum":0},"y2":{"datum":0.04}}}
]},
{"width":350,"height":89,"title":{"text":["Histogram of generated lifetimes,","truncated to 40 to 99 years, n=1000"]},
"layer":[
{"data":{"name":"bars"},"transform":[{"filter":"datum.p==8"}],"mark":{"type":"rect","fill":"#d3d3d3","stroke":"#1a1a1a","strokeWidth":1},
"encoding":{"x":{"field":"lo","type":"quantitative","scale":{"domain":[37.6,102.4],"nice":false,"zero":false},"axis":{"values":[40,50,60,70,80,90,100],"title":"age at death (years)"}},"x2":{"field":"hi"},
"y":{"field":"d","type":"quantitative","scale":{"domain":[-0.0019,0.0502],"nice":false,"zero":false},"axis":{"values":[0,0.01,0.02,0.03,0.04],"title":"Density","labelExpr":"round(datum.value*100)%2==0 ? format(datum.value,'.2f') : ''"}},"y2":{"datum":0}}},
{"data":{"name":"curves"},"transform":[{"filter":"datum.p==8"}],"mark":{"type":"line","color":"#000","strokeWidth":1,"clip":true,"interpolate":"monotone"},
"encoding":{"x":{"field":"x","type":"quantitative"},"y":{"field":"y","type":"quantitative"},"strokeDash":{"field":"s","type":"nominal","scale":{"domain":["g","k"],"range":[[1,0],[3.5,3.5]]},"legend":{"title":null,"labelFontSize":8.7,"labelExpr":"datum.label=='g' ? 'fitted Gompertz distribution' : 'kernel density estimate'"}}}},
{"data":{"values":[{}]},"mark":{"type":"rule","color":"#000","strokeWidth":1},"encoding":{"x":{"datum":40},"x2":{"datum":100},"y":{"datum":-0.0019}}},
{"data":{"values":[{}]},"mark":{"type":"rule","color":"#000","strokeWidth":1},"encoding":{"x":{"datum":37.6},"y":{"datum":0},"y2":{"datum":0.04}}}
]}
],
"config":{
"font":"Liberation Sans",
"view":{"stroke":null},
"axis":{"grid":false,"domain":false,"tickColor":"#000","tickSize":4,"labelFontSize":8.7,"labelColor":"#000","titleFontSize":8.7,"titleFontWeight":"normal","titleColor":"#000","labelFont":"Liberation Sans","titleFont":"Liberation Sans","labelFlush":false,"labelOverlap":false},
"axisX":{"labelPadding":7,"titlePadding":16,"labelAngle":0},
"axisY":{"labelAngle":-90,"labelPadding":4,"titlePadding":14},
"title":{"fontSize":10.9,"fontWeight":"bold","lineHeight":11,"offset":9.5,"anchor":"middle","color":"#000","font":"Liberation Sans"},
"legend":{"orient":"top-left","offset":0,"padding":5,"strokeColor":"#000","fillColor":"#fff","symbolType":"M0,0H4","symbolSize":72,"symbolStrokeWidth":1,"symbolStrokeColor":"#000","labelFontSize":8.7,"labelColor":"#000","labelOffset":16.5,"rowPadding":1.3,"labelFont":"Liberation Sans"}
}
}
